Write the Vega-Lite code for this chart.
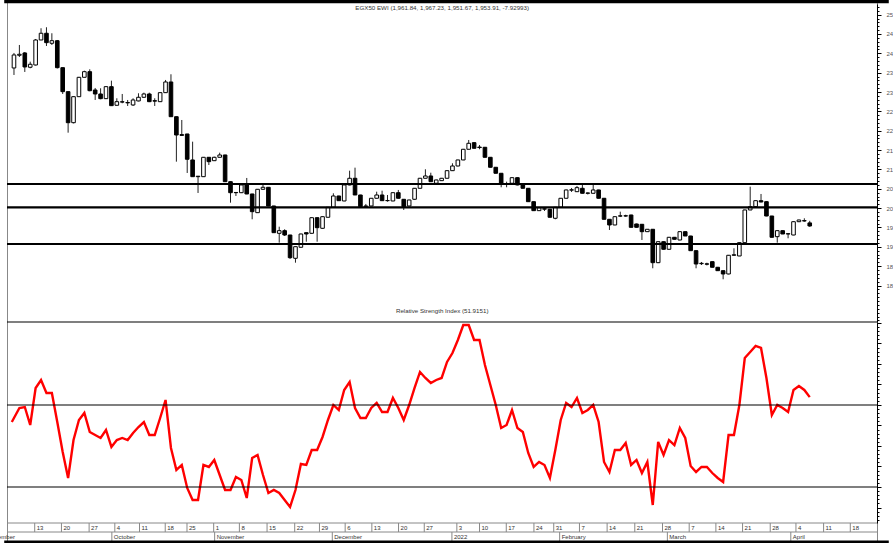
{
  "$schema": "https://vega.github.io/schema/vega-lite/v6.json",
  "width": 870,
  "height": 543,
  "autosize": {"type": "none"},
  "padding": {"left": 7, "top": 0, "right": 16, "bottom": 0},
  "background": "white",
  "config": {
    "view": {"stroke": "#888888", "strokeWidth": 1},
    "font": "Liberation Sans",
    "axis": {"labelFont": "Liberation Sans", "grid": false, "title": null, "labelOverlap": false, "labelSeparation": 0, "labelBound": false, "labelFlush": false}
  },
  "datasets": {
    "candles": [
      {"i":0,"o":2362.2,"h":2401,"l":2344.1,"c":2395.8},
      {"i":1,"o":2395,"h":2421.6,"l":2390.6,"c":2397.6},
      {"i":2,"o":2401,"h":2403.5,"l":2351.9,"c":2364.8},
      {"i":3,"o":2364,"h":2378.5,"l":2361.4,"c":2371.8},
      {"i":4,"o":2369.9,"h":2437.1,"l":2368.6,"c":2434.5},
      {"i":5,"o":2434.5,"h":2464.8,"l":2434.5,"c":2451.9},
      {"i":6,"o":2451.9,"h":2467.4,"l":2419,"c":2427.6},
      {"i":7,"o":2426,"h":2451.9,"l":2421.6,"c":2432.7},
      {"i":8,"o":2432.7,"h":2434.5,"l":2360.9,"c":2363},
      {"i":9,"o":2363,"h":2363,"l":2295,"c":2301},
      {"i":10,"o":2301,"h":2301,"l":2195,"c":2220.8},
      {"i":11,"o":2220.8,"h":2288.7,"l":2219,"c":2288},
      {"i":12,"o":2288,"h":2339,"l":2288,"c":2338.1},
      {"i":13,"o":2338.1,"h":2355.2,"l":2338,"c":2352.6},
      {"i":14,"o":2352.6,"h":2358.8,"l":2302,"c":2303.5},
      {"i":15,"o":2305.3,"h":2310.5,"l":2279.5,"c":2295},
      {"i":16,"o":2295,"h":2309.7,"l":2281.3,"c":2282.9},
      {"i":17,"o":2282.9,"h":2315,"l":2282,"c":2313.9},
      {"i":18,"o":2313.9,"h":2329.4,"l":2264,"c":2264.8},
      {"i":19,"o":2265.8,"h":2283.9,"l":2265,"c":2275.1},
      {"i":20,"o":2274,"h":2295,"l":2271,"c":2275},
      {"i":21,"o":2273,"h":2279.5,"l":2264,"c":2272},
      {"i":22,"o":2266.6,"h":2283.9,"l":2264,"c":2279.5},
      {"i":23,"o":2277,"h":2296.8,"l":2276,"c":2286.5},
      {"i":24,"o":2286.5,"h":2298.4,"l":2285,"c":2295},
      {"i":25,"o":2295,"h":2298.4,"l":2274,"c":2275.1},
      {"i":26,"o":2277.7,"h":2283.9,"l":2264,"c":2276.5},
      {"i":27,"o":2275.1,"h":2299,"l":2275,"c":2298.4},
      {"i":28,"o":2298.4,"h":2331.2,"l":2298,"c":2326},
      {"i":29,"o":2326,"h":2345.9,"l":2236,"c":2236.3},
      {"i":30,"o":2236.3,"h":2237,"l":2120.1,"c":2189},
      {"i":31,"o":2190,"h":2227.8,"l":2187.2,"c":2188},
      {"i":32,"o":2191.6,"h":2192,"l":2090.9,"c":2126.3},
      {"i":33,"o":2124.5,"h":2171.8,"l":2081,"c":2081.3},
      {"i":34,"o":2081.3,"h":2083,"l":2039.2,"c":2082.5},
      {"i":35,"o":2081.3,"h":2132,"l":2081,"c":2131.4},
      {"i":36,"o":2131.4,"h":2132,"l":2111.5,"c":2120.1},
      {"i":37,"o":2122.6,"h":2133,"l":2122,"c":2131.4},
      {"i":38,"o":2131.4,"h":2143.3,"l":2131,"c":2137.4},
      {"i":39,"o":2137.4,"h":2138,"l":2068,"c":2068.4},
      {"i":40,"o":2068.4,"h":2069,"l":2014.1,"c":2039.9},
      {"i":41,"o":2040.5,"h":2041,"l":2031.4,"c":2039.9},
      {"i":42,"o":2039.9,"h":2060.5,"l":2039,"c":2059.9},
      {"i":43,"o":2059.9,"h":2078,"l":2036,"c":2036.6},
      {"i":44,"o":2036.6,"h":2037,"l":1971.2,"c":1990.9},
      {"i":45,"o":1988.3,"h":2049.5,"l":1988,"c":2048.7},
      {"i":46,"o":2048.7,"h":2059.9,"l":2048,"c":2053.9},
      {"i":47,"o":2053.9,"h":2054.5,"l":2005,"c":2005.6},
      {"i":48,"o":2005.6,"h":2006,"l":1936,"c":1936.6},
      {"i":49,"o":1935,"h":1952.1,"l":1910.8,"c":1941.8},
      {"i":50,"o":1941.8,"h":1945.4,"l":1928,"c":1930.6},
      {"i":51,"o":1930.6,"h":1931,"l":1868.6,"c":1872},
      {"i":52,"o":1870.4,"h":1901,"l":1859.1,"c":1900.4},
      {"i":53,"o":1898.9,"h":1934,"l":1898,"c":1933.2},
      {"i":54,"o":1936.6,"h":1937,"l":1913.3,"c":1933.2},
      {"i":55,"o":1935,"h":1976,"l":1934,"c":1975.3},
      {"i":56,"o":1975.3,"h":1976,"l":1913.3,"c":1949.5},
      {"i":57,"o":1947.9,"h":1978.5,"l":1947,"c":1977.9},
      {"i":58,"o":1976.4,"h":2003,"l":1976,"c":2002.2},
      {"i":59,"o":2002.2,"h":2038.4,"l":2002,"c":2031.4},
      {"i":60,"o":2031.4,"h":2032,"l":2019,"c":2019.3},
      {"i":61,"o":2018.5,"h":2060.5,"l":2018,"c":2059.9},
      {"i":62,"o":2059.9,"h":2096.8,"l":2059,"c":2077.2},
      {"i":63,"o":2077.2,"h":2104.6,"l":2034,"c":2034},
      {"i":64,"o":2034,"h":2034.5,"l":2003,"c":2003.8},
      {"i":65,"o":2004.5,"h":2010.8,"l":2000.4,"c":2005.6},
      {"i":66,"o":2005.6,"h":2026,"l":2005,"c":2025.5},
      {"i":67,"o":2025.5,"h":2042.5,"l":2025,"c":2034},
      {"i":68,"o":2034,"h":2045.1,"l":2019,"c":2019.3},
      {"i":69,"o":2019.3,"h":2034,"l":2016.7,"c":2019.8},
      {"i":70,"o":2018.5,"h":2040.5,"l":2018,"c":2039.9},
      {"i":71,"o":2039.9,"h":2047,"l":2025,"c":2025.5},
      {"i":72,"o":2022.9,"h":2023.5,"l":1995.3,"c":2003.8},
      {"i":73,"o":2005.6,"h":2021.5,"l":2005,"c":2021.1},
      {"i":74,"o":2022.9,"h":2052,"l":2022,"c":2051.3},
      {"i":75,"o":2051.3,"h":2078,"l":2051,"c":2077.2},
      {"i":76,"o":2077.2,"h":2100.4,"l":2077,"c":2083.1},
      {"i":77,"o":2083.1,"h":2091.6,"l":2068,"c":2068.4},
      {"i":78,"o":2064.3,"h":2073.5,"l":2061,"c":2072.8},
      {"i":79,"o":2071,"h":2078,"l":2070.5,"c":2077.2},
      {"i":80,"o":2077.2,"h":2097.5,"l":2077,"c":2096.8},
      {"i":81,"o":2096.8,"h":2115.9,"l":2096,"c":2108.9},
      {"i":82,"o":2108.9,"h":2125,"l":2108,"c":2124.5},
      {"i":83,"o":2124.5,"h":2153,"l":2124,"c":2152.1},
      {"i":84,"o":2152.1,"h":2176.1,"l":2152,"c":2167.6},
      {"i":85,"o":2169.2,"h":2170,"l":2154,"c":2154.7},
      {"i":86,"o":2157.8,"h":2163.2,"l":2152.1,"c":2156.5},
      {"i":87,"o":2157.3,"h":2158,"l":2131,"c":2131.4},
      {"i":88,"o":2131.4,"h":2132,"l":2105,"c":2105.6},
      {"i":89,"o":2105.6,"h":2106,"l":2090,"c":2090.1},
      {"i":90,"o":2090.1,"h":2090.5,"l":2053.9,"c":2062.4},
      {"i":91,"o":2063.2,"h":2068.4,"l":2053.9,"c":2062.4},
      {"i":92,"o":2064.3,"h":2079.5,"l":2064,"c":2078.7},
      {"i":93,"o":2078.7,"h":2079.5,"l":2059,"c":2059.9},
      {"i":94,"o":2059.9,"h":2060.5,"l":2051,"c":2051.3},
      {"i":95,"o":2051.3,"h":2052,"l":2016,"c":2016.7},
      {"i":96,"o":2016.7,"h":2017,"l":1993,"c":1993.5},
      {"i":97,"o":1993.5,"h":2002,"l":1993,"c":2001.2},
      {"i":98,"o":1997.3,"h":2003,"l":1992.7,"c":1998.5},
      {"i":99,"o":1997.1,"h":1998,"l":1976,"c":1976.4},
      {"i":100,"o":1973.8,"h":2003,"l":1971.2,"c":2002.2},
      {"i":101,"o":2002.2,"h":2026,"l":2002,"c":2025.5},
      {"i":102,"o":2025.5,"h":2048,"l":2025,"c":2047},
      {"i":103,"o":2046.5,"h":2052.1,"l":2041.8,"c":2047.5},
      {"i":104,"o":2042.5,"h":2057.3,"l":2042,"c":2052.9},
      {"i":105,"o":2051.3,"h":2059.9,"l":2038,"c":2038.4},
      {"i":106,"o":2038.4,"h":2040.5,"l":2035.3,"c":2039.2},
      {"i":107,"o":2038.4,"h":2064.3,"l":2038,"c":2047},
      {"i":108,"o":2047,"h":2047.5,"l":2025,"c":2025.5},
      {"i":109,"o":2025.5,"h":2026,"l":1971,"c":1971.2},
      {"i":110,"o":1971.2,"h":1971.5,"l":1943.6,"c":1956.5},
      {"i":111,"o":1956.5,"h":1978.5,"l":1956,"c":1977.9},
      {"i":112,"o":1979.3,"h":1990.9,"l":1977,"c":1980.2},
      {"i":113,"o":1980.2,"h":1983,"l":1977.7,"c":1979.7},
      {"i":114,"o":1982.3,"h":1983,"l":1950,"c":1950.5},
      {"i":115,"o":1959.1,"h":1960,"l":1950,"c":1950.5},
      {"i":116,"o":1958.3,"h":1959,"l":1917.7,"c":1939.2},
      {"i":117,"o":1939.2,"h":1946,"l":1939,"c":1945.4},
      {"i":118,"o":1945.4,"h":1946,"l":1844.6,"c":1859.1},
      {"i":119,"o":1859.1,"h":1914,"l":1858,"c":1913.3},
      {"i":120,"o":1913.3,"h":1914,"l":1893,"c":1893.7},
      {"i":121,"o":1893.7,"h":1925.5,"l":1893,"c":1924.7},
      {"i":122,"o":1924.7,"h":1925.5,"l":1919,"c":1919.5},
      {"i":123,"o":1917.7,"h":1940,"l":1917,"c":1939.2},
      {"i":124,"o":1939.2,"h":1940,"l":1928,"c":1928},
      {"i":125,"o":1928,"h":1928.5,"l":1890,"c":1890.1},
      {"i":126,"o":1890.1,"h":1890.5,"l":1844.6,"c":1855.7},
      {"i":127,"o":1856.5,"h":1860.9,"l":1853.1,"c":1857.5},
      {"i":128,"o":1856,"h":1859,"l":1852,"c":1855.2},
      {"i":129,"o":1861.7,"h":1862,"l":1847,"c":1847.2},
      {"i":130,"o":1847.2,"h":1848,"l":1838,"c":1838.4},
      {"i":131,"o":1838.4,"h":1839,"l":1816.2,"c":1829.9},
      {"i":132,"o":1829.9,"h":1879,"l":1829,"c":1878.2},
      {"i":133,"o":1878.2,"h":1896.3,"l":1877,"c":1879.5},
      {"i":134,"o":1876.4,"h":1911.5,"l":1876,"c":1910.8},
      {"i":135,"o":1910.8,"h":1996,"l":1910,"c":1995.3},
      {"i":136,"o":1995.3,"h":2055.5,"l":1995,"c":2003.8},
      {"i":137,"o":2003.8,"h":2020,"l":2003,"c":2019.3},
      {"i":138,"o":2019.3,"h":2036.6,"l":2015,"c":2015.9},
      {"i":139,"o":2016.7,"h":2017.5,"l":1979,"c":1979.7},
      {"i":140,"o":1979.7,"h":1980,"l":1924,"c":1924.7},
      {"i":141,"o":1926.3,"h":1942.5,"l":1910.8,"c":1941.8},
      {"i":142,"o":1941.8,"h":1942.5,"l":1933,"c":1933.2},
      {"i":143,"o":1933.2,"h":1934.5,"l":1922.1,"c":1934},
      {"i":144,"o":1930.6,"h":1966,"l":1930,"c":1965},
      {"i":145,"o":1965,"h":1970,"l":1964,"c":1969.4},
      {"i":146,"o":1967.7,"h":1973.8,"l":1965,"c":1966.8},
      {"i":147,"o":1961.84,"h":1967.23,"l":1951.67,"c":1953.91}
    ],
    "rsi": [
      {"i":-0.4,"r":45.85},{"i":1,"r":49.27},{"i":2,"r":49.51},{"i":3,"r":45.12},{"i":4,"r":54.15},{"i":5,"r":56.10},{"i":6,"r":52.93},{"i":7,"r":52.93},{"i":8,"r":45.85},{"i":9,"r":38.54},
      {"i":10,"r":32.20},{"i":11,"r":41.46},{"i":12,"r":46.34},{"i":13,"r":48.05},{"i":14,"r":43.41},{"i":15,"r":42.68},{"i":16,"r":41.95},{"i":17,"r":43.90},{"i":18,"r":39.76},{"i":19,"r":41.46},
      {"i":20,"r":41.95},{"i":21,"r":41.46},{"i":22,"r":43.17},{"i":23,"r":44.63},{"i":24,"r":45.85},{"i":25,"r":42.68},{"i":26,"r":42.68},{"i":27,"r":46.83},{"i":28,"r":51.22},{"i":29,"r":39.51},
      {"i":30,"r":34.15},{"i":31,"r":35.37},{"i":32,"r":29.76},{"i":33,"r":26.83},{"i":34,"r":26.83},{"i":35,"r":35.37},{"i":36,"r":34.88},{"i":37,"r":36.59},{"i":38,"r":32.93},{"i":39,"r":29.27},
      {"i":40,"r":29.27},{"i":41,"r":32.44},{"i":42,"r":31.71},{"i":43,"r":27.32},{"i":44,"r":37.07},{"i":45,"r":37.80},{"i":46,"r":32.93},{"i":47,"r":28.54},{"i":48,"r":29.27},{"i":49,"r":28.54},
      {"i":50,"r":26.83},{"i":51,"r":25.12},{"i":52,"r":29.27},{"i":53,"r":35.61},{"i":54,"r":35.37},{"i":55,"r":39.02},{"i":56,"r":39.02},{"i":57,"r":42.20},{"i":58,"r":46.34},{"i":59,"r":50.00},
      {"i":60,"r":48.78},{"i":61,"r":53.66},{"i":62,"r":55.61},{"i":63,"r":49.27},{"i":64,"r":46.83},{"i":65,"r":46.83},{"i":66,"r":49.27},{"i":67,"r":50.49},{"i":68,"r":48.29},{"i":69,"r":48.29},
      {"i":70,"r":51.71},{"i":71,"r":49.27},{"i":72,"r":46.34},{"i":73,"r":50.00},{"i":74,"r":54.15},{"i":75,"r":58.05},{"i":76,"r":56.59},{"i":77,"r":55.37},{"i":78,"r":56.10},{"i":79,"r":56.59},
      {"i":80,"r":60.49},{"i":81,"r":62.68},{"i":82,"r":65.85},{"i":83,"r":69.51},{"i":84,"r":69.51},{"i":85,"r":65.85},{"i":86,"r":65.85},{"i":87,"r":59.76},{"i":88,"r":54.88},{"i":89,"r":50.00},
      {"i":90,"r":44.39},{"i":91,"r":45.12},{"i":92,"r":48.78},{"i":93,"r":44.39},{"i":94,"r":43.41},{"i":95,"r":38.29},{"i":96,"r":34.88},{"i":97,"r":36.10},{"i":98,"r":35.37},{"i":99,"r":32.20},
      {"i":100,"r":39.02},{"i":101,"r":46.34},{"i":102,"r":50.49},{"i":103,"r":49.51},{"i":104,"r":51.71},{"i":105,"r":48.05},{"i":106,"r":48.78},{"i":107,"r":50.00},{"i":108,"r":45.85},{"i":109,"r":36.10},
      {"i":110,"r":33.66},{"i":111,"r":39.02},{"i":112,"r":39.02},{"i":113,"r":40.73},{"i":114,"r":35.37},{"i":115,"r":36.59},{"i":116,"r":33.41},{"i":117,"r":36.10},{"i":118,"r":25.61},{"i":119,"r":40.98},
      {"i":120,"r":37.80},{"i":121,"r":41.46},{"i":122,"r":40.24},{"i":123,"r":44.39},{"i":124,"r":41.95},{"i":125,"r":35.12},{"i":126,"r":33.66},{"i":127,"r":34.88},{"i":128,"r":34.88},{"i":129,"r":33.41},
      {"i":130,"r":32.20},{"i":131,"r":31.22},{"i":132,"r":42.68},{"i":133,"r":42.68},{"i":134,"r":50.00},{"i":135,"r":61.46},{"i":136,"r":62.93},{"i":137,"r":64.39},{"i":138,"r":63.90},{"i":139,"r":56.59},
      {"i":140,"r":47.56},{"i":141,"r":50.00},{"i":142,"r":49.27},{"i":143,"r":48.29},{"i":144,"r":53.66},{"i":145,"r":54.63},{"i":146,"r":53.66},{"i":147,"r":51.92}
    ],
    "priceLevels": [{"v": 2062.4}, {"v": 2002.2}, {"v": 1907.4}],
    "rsiLevels": [{"r": 50}, {"r": 30}],
    "days": [
      {"pos":3.83,"lab":"13"},{"pos":8.77,"lab":"20"},{"pos":13.88,"lab":"27"},{"pos":18.63,"lab":"4"},
      {"pos":23.19,"lab":"11"},{"pos":27.94,"lab":"18"},{"pos":31.96,"lab":"25"},{"pos":36.89,"lab":"1"},
      {"pos":41.64,"lab":"8"},{"pos":46.75,"lab":"15"},{"pos":51.86,"lab":"22"},{"pos":56.43,"lab":"29"},
      {"pos":61.18,"lab":"6"},{"pos":66.11,"lab":"13"},{"pos":71.04,"lab":"20"},{"pos":75.79,"lab":"27"},
      {"pos":81.81,"lab":"3"},{"pos":86.0,"lab":"10"},{"pos":90.94,"lab":"17"},{"pos":96.05,"lab":"24"},
      {"pos":99.71,"lab":"31"},{"pos":104.46,"lab":"7"},{"pos":109.57,"lab":"14"},{"pos":114.68,"lab":"21"},
      {"pos":119.8,"lab":"28"},{"pos":124.73,"lab":"7"},{"pos":129.66,"lab":"14"},{"pos":134.59,"lab":"21"},
      {"pos":139.7,"lab":"28"},{"pos":144.45,"lab":"4"},{"pos":149.56,"lab":"11"},{"pos":154.49,"lab":"18"}
    ],
    "months": [
      {"pos":-5.6,"lab":"September"},{"pos":18.08,"lab":"October"},{"pos":37.07,"lab":"November"},
      {"pos":58.8,"lab":"December"},{"pos":80.9,"lab":"2022"},{"pos":100.8,"lab":"February"},
      {"pos":120.7,"lab":"March"},{"pos":143.5,"lab":"April"}
    ],
    "bandLines": [{"lvl": 2}, {"lvl": 1}]
  },
  "layer": [
    {
      "layer": [
        {
          "data": {"name": "candles"},
          "mark": {"type": "rule", "color": "#222222", "strokeWidth": 1},
          "encoding": {
            "x": {"field": "i", "type": "quantitative", "scale": {"domain": [-0.365, 158.5], "nice": false, "zero": false}, "axis": null},
            "y": {"field": "l", "type": "quantitative", "scale": {"domain": [1705.8, 2527.5], "range": [322, 4], "nice": false, "zero": false}, "axis": null},
            "y2": {"field": "h"}
          }
        },
        {
          "data": {"name": "candles"},
          "mark": {"type": "bar", "size": 3.6, "stroke": "#000000", "strokeWidth": 1},
          "encoding": {
            "x": {"field": "i", "type": "quantitative"},
            "y": {"field": "o", "type": "quantitative"},
            "y2": {"field": "c"},
            "fill": {"condition": {"test": "datum.c >= datum.o", "value": "#ffffff"}, "value": "#000000"}
          }
        },
        {
          "data": {"name": "priceLevels"},
          "mark": {"type": "rule", "color": "#000000", "strokeWidth": 2.2},
          "encoding": {"y": {"field": "v", "type": "quantitative"}}
        },
        {
          "data": {"values": [{"t": "EGX50 EWI (1,961.84, 1,967.23, 1,951.67, 1,953.91, -7.92993)"}]},
          "mark": {"type": "text", "fontSize": 6.2, "color": "#333333", "align": "center", "baseline": "middle"},
          "encoding": {"x": {"datum": 79.1, "type": "quantitative"}, "y": {"datum": 2517, "type": "quantitative"}, "text": {"field": "t"}}
        },
        {
          "data": {"values": [{"t": "Relative Strength Index (51.9151)"}]},
          "mark": {"type": "text", "fontSize": 6.2, "color": "#333333", "align": "center", "baseline": "middle"},
          "encoding": {"x": {"datum": 79.1, "type": "quantitative"}, "y": {"datum": 1734, "type": "quantitative"}, "text": {"field": "t"}}
        },
        {
          "data": {"values": [{"y": 2534}]},
          "mark": {"type": "rule", "color": "#000000", "strokeWidth": 3.5},
          "encoding": {"x": {"datum": -1.8, "type": "quantitative"}, "x2": {"datum": 161.6}, "y": {"field": "y", "type": "quantitative"}}
        }
      ]
    },
    {
      "data": {"values": [{"v": 1800}, {"v": 2500}]},
      "mark": {"type": "rule", "opacity": 0},
      "encoding": {
        "y": {"field": "v", "type": "quantitative", "scale": {"domain": [1705.8, 2527.5], "range": [322, 4], "nice": false, "zero": false},
          "axis": {"orient": "right", "values": [1800,1900,2000,2100,2200,2300,2400,2500], "format": "d", "tickSize": 4, "labelFontSize": 6, "labelColor": "#555555", "labelPadding": 5, "domainColor": "#000000", "tickColor": "#000000"}}
      }
    },
    {
      "data": {"values": [{"v": 1750}, {"v": 2450}]},
      "mark": {"type": "rule", "opacity": 0},
      "encoding": {
        "y": {"field": "v", "type": "quantitative", "scale": {"domain": [1705.8, 2527.5], "range": [322, 4], "nice": false, "zero": false},
          "axis": {"orient": "right", "values": [1850,1950,2050,2150,2250,2350,2450], "format": "d", "tickSize": 4, "labelFontSize": 6, "labelColor": "#555555", "labelPadding": 5, "domain": false, "tickColor": "#000000"}}
      }
    },
    {
      "data": {"name": "priceLevels"},
      "mark": {"type": "rule", "opacity": 0},
      "encoding": {
        "y": {"field": "v", "type": "quantitative", "scale": {"domain": [1705.8, 2527.5], "range": [322, 4], "nice": false, "zero": false},
          "axis": {"orient": "right", "values": [1710,1720,1730,1740,1750,1760,1770,1780,1790,1810,1820,1830,1840,1860,1870,1880,1890,1910,1920,1930,1940,1960,1970,1980,1990,2010,2020,2030,2040,2060,2070,2080,2090,2110,2120,2130,2140,2160,2170,2180,2190,2210,2220,2230,2240,2260,2270,2280,2290,2310,2320,2330,2340,2360,2370,2380,2390,2410,2420,2430,2440,2460,2470,2480,2490,2510,2520], "tickSize": 2, "labels": false, "domain": false, "tickColor": "#000000"}}
      }
    },
    {
      "layer": [
        {
          "data": {"name": "rsi"},
          "mark": {"type": "line", "color": "#ff0000", "strokeWidth": 2.4},
          "encoding": {
            "x": {"field": "i", "type": "quantitative"},
            "y": {"field": "r", "type": "quantitative", "scale": {"domain": [21.22, 70.24], "range": [523, 322], "nice": false, "zero": false},
              "axis": {"orient": "right", "values": [25,30,35,40,45,50,55,60,65,70], "tickSize": 4, "labels": false, "domainColor": "#000000", "tickColor": "#000000"}}
          }
        },
        {
          "data": {"name": "rsiLevels"},
          "mark": {"type": "rule", "color": "#000000", "strokeWidth": 1.2},
          "encoding": {"y": {"field": "r", "type": "quantitative"}}
        },
        {
          "data": {"values": [{"r": 70.24}]},
          "mark": {"type": "rule", "color": "#000000", "strokeWidth": 1.2},
          "encoding": {"y": {"field": "r", "type": "quantitative"}}
        }
      ]
    },
    {
      "data": {"name": "rsiLevels"},
      "mark": {"type": "rule", "opacity": 0},
      "encoding": {
        "y": {"field": "r", "type": "quantitative", "scale": {"domain": [21.22, 70.24], "range": [523, 322], "nice": false, "zero": false},
          "axis": {"orient": "right", "values": [22,23,24,26,27,28,29,31,32,33,34,36,37,38,39,41,42,43,44,46,47,48,49,51,52,53,54,56,57,58,59,61,62,63,64,66,67,68,69], "tickSize": 2, "labels": false, "domain": false, "tickColor": "#000000"}}
      }
    },
    {
      "layer": [
        {
          "data": {"name": "bandLines"},
          "mark": {"type": "rule", "color": "#888888", "strokeWidth": 1},
          "encoding": {
            "y": {"field": "lvl", "type": "quantitative", "scale": {"domain": [0, 2], "range": [541, 523], "nice": false, "zero": false}, "axis": null}
          }
        },
        {
          "data": {"name": "days"},
          "mark": {"type": "rule", "color": "#888888", "strokeWidth": 1},
          "encoding": {
            "x": {"field": "pos", "type": "quantitative"},
            "y": {"datum": 1, "type": "quantitative"},
            "y2": {"datum": 2}
          }
        },
        {
          "data": {"name": "days"},
          "mark": {"type": "text", "fontSize": 6, "color": "#333333", "align": "left", "baseline": "middle", "dx": 2},
          "encoding": {
            "x": {"field": "pos", "type": "quantitative"},
            "y": {"datum": 1.5, "type": "quantitative"},
            "text": {"field": "lab"}
          }
        },
        {
          "data": {"name": "months"},
          "mark": {"type": "rule", "color": "#888888", "strokeWidth": 1},
          "encoding": {
            "x": {"field": "pos", "type": "quantitative"},
            "y": {"datum": 0, "type": "quantitative"},
            "y2": {"datum": 1}
          }
        },
        {
          "data": {"name": "months"},
          "mark": {"type": "text", "fontSize": 6, "color": "#333333", "align": "left", "baseline": "middle", "dx": 2},
          "encoding": {
            "x": {"field": "pos", "type": "quantitative"},
            "y": {"datum": 0.5, "type": "quantitative"},
            "text": {"field": "lab"}
          }
        },
        {
          "data": {"values": [{"lvl": -0.1}]},
          "mark": {"type": "rule", "color": "#000000", "strokeWidth": 3},
          "encoding": {"x": {"datum": -1.8, "type": "quantitative"}, "x2": {"datum": 161.6}, "y": {"field": "lvl", "type": "quantitative"}}
        }
      ]
    }
  ],
  "resolve": {"scale": {"y": "independent"}, "axis": {"y": "independent"}}
}
